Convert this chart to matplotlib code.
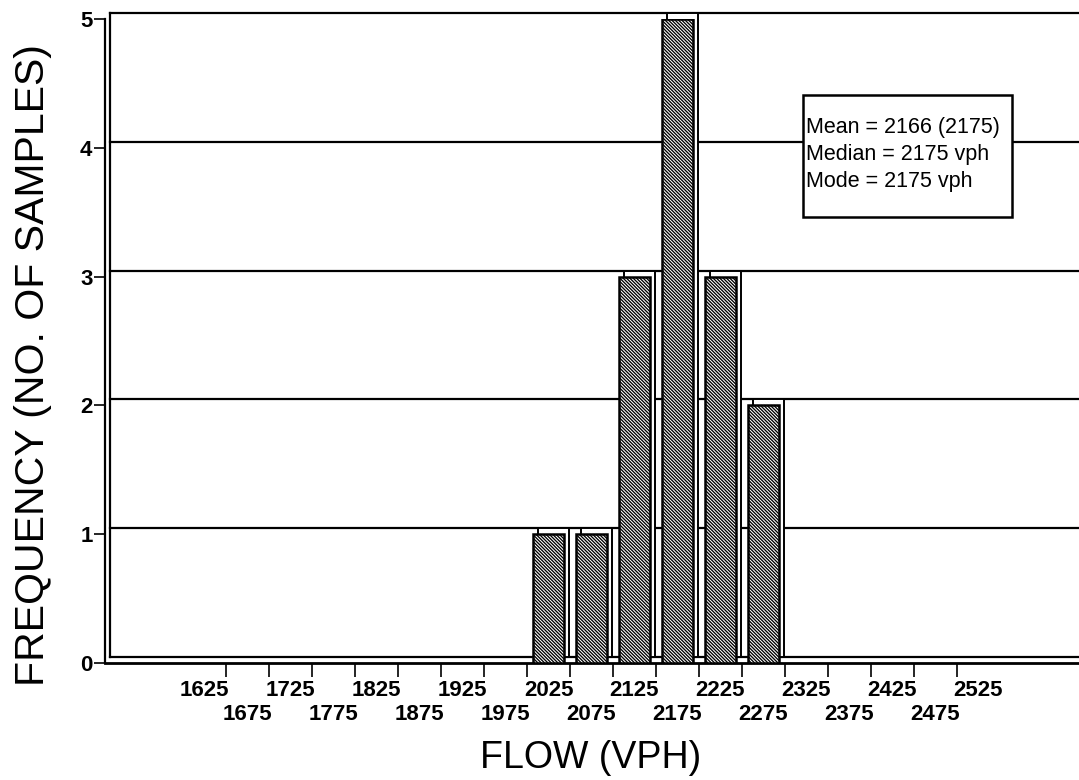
import matplotlib
matplotlib.use("Agg")
import matplotlib.pyplot as plt
from matplotlib.transforms import offset_copy, blended_transform_factory
from matplotlib.patches import Rectangle

# ---- data ----
flow_bins = [1625, 1675, 1725, 1775, 1825, 1875, 1925, 1975, 2025, 2075,
             2125, 2175, 2225, 2275, 2325, 2375, 2425, 2475, 2525]
frequency = [0, 0, 0, 0, 0, 0, 0, 0, 1, 1, 3, 5, 3, 2, 0, 0, 0, 0, 0]
y_ticks = [0, 1, 2, 3, 4, 5]
stats_lines = ["Mean = 2166 (2175)", "Median = 2175 vph", "Mode = 2175 vph"]

plt.rcParams['font.family'] = ['Liberation Sans', 'DejaVu Sans']
plt.rcParams['hatch.linewidth'] = 0.75

W, H = 1079, 780
fig = plt.figure(figsize=(W / 100, H / 100), dpi=100)
ax = fig.add_axes([105 / W, 1 - 663 / H, (1078 - 105) / W, (663 - 19) / H])
ax.set_xlim(1509, 2641)
ax.set_ylim(0, 5)

# 3D "back wall" transform: shifted right and up
back = offset_copy(ax.transData, fig=fig, x=5, y=6, units='dots')

# gridlines on back wall
xl = ax.get_xlim()
for v in y_ticks:
    ax.plot(xl, [v, v], color='black', lw=1.6, transform=back,
            clip_on=False, zorder=1)
ax.plot([xl[0], xl[0]], [0, 5], color='black', lw=1.6, transform=back,
        clip_on=False, zorder=1)

# bars
xs = [b for b, f in zip(flow_bins, frequency) if f > 0]
hs = [f for f in frequency if f > 0]
bw = 36
ax.bar(xs, hs, width=bw, facecolor='white', edgecolor='black', lw=1.4,
       transform=back, zorder=2, clip_on=False)
ax.bar(xs, hs, width=bw, facecolor='black', edgecolor='white', lw=0,
       hatch='\\' * 10, zorder=3)
ax.bar(xs, hs, width=bw, fill=False, edgecolor='black', lw=1.8, zorder=4)

# spines
for s in ['top', 'right']:
    ax.spines[s].set_visible(False)
ax.spines['left'].set_linewidth(1.6)
ax.spines['bottom'].set_linewidth(2.0)

# y ticks
ax.set_yticks(y_ticks)
ax.set_yticklabels([str(v) for v in y_ticks], fontsize=16, fontweight='bold')
ax.tick_params(axis='y', length=8, width=1.2, pad=1)

# x ticks at bin edges; labels at bin centres in two staggered rows
edges = [(a + b) / 2 for a, b in zip(flow_bins[:-1], flow_bins[1:])]
ax.set_xticks(edges)
ax.set_xticklabels([])
ax.tick_params(axis='x', length=10, width=1.2)
bt = blended_transform_factory(ax.transData, ax.transAxes)
row_up = offset_copy(bt, fig=fig, x=0, y=-27, units='dots')
row_dn = offset_copy(bt, fig=fig, x=0, y=-52, units='dots')
for i, b in enumerate(flow_bins):
    ax.text(b, 0, str(b), transform=row_up if i % 2 == 0 else row_dn,
            fontsize=16, fontweight='bold', ha='center', va='center',
            clip_on=False)

# axis labels
fig.text(33 / W, 1 - 365 / H, "FREQUENCY (NO. OF SAMPLES)", rotation=90,
         fontsize=29.5, ha='center', va='center')
fig.text(591 / W, 1 - 758 / H, "FLOW (VPH)", fontsize=27,
         ha='center', va='center')

# statistics box
fig.patches.append(Rectangle((803 / W, 1 - 217 / H), (1012 - 803) / W,
                             (217 - 95) / H, transform=fig.transFigure,
                             facecolor='white', edgecolor='black', lw=1.8,
                             zorder=5))
for i, line in enumerate(stats_lines):
    fig.text(806 / W, 1 - (127 + 27.5 * i) / H, line, fontsize=15.5,
             ha='left', va='center', zorder=6)

fig.savefig("out.png", dpi=100)
